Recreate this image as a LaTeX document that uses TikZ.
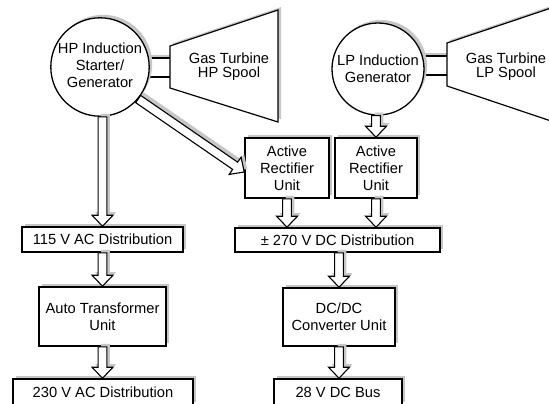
\documentclass[tikz,border=0pt]{standalone}
\usepackage{fontspec}
\setmainfont{Liberation Sans}
\usetikzlibrary{arrows.meta, shapes, shadows, calc, positioning}

\tikzset{
  unitbox/.style={draw, line width=1.6pt, fill=white, align=center, inner sep=0pt,
    drop shadow={shadow xshift=3pt, shadow yshift=3pt, fill=gray!45, opacity=1}},
  machine/.style={circle, draw, line width=1.3pt, fill=white, align=center, inner sep=0pt,
    drop shadow={shadow xshift=3pt, shadow yshift=3pt, fill=gray!45, opacity=1}},
  turbine/.style={draw, line width=1.2pt, fill=white,
    drop shadow={shadow xshift=3pt, shadow yshift=3pt, fill=gray!45, opacity=1}},
  % hollow block arrow: shaft half width 4.4, head half width 10.5, head length 11
  power/.style={draw, line width=1.1pt, fill=white, miter limit=20,
    preaction={fill=gray!45, draw=none, transform canvas={xshift=3pt, yshift=3pt}},
    to path={
      let \p1=(\tikztostart), \p2=(\tikztotarget),
          \n1={atan2(\y2-\y1,\x2-\x1)}, \n2={veclen(\x2-\x1,\y2-\y1)} in
      ([shift={(\p2)}, rotate=\n1]-\n2,4.4) -- ([shift={(\p2)}, rotate=\n1]-11,4.4)
      -- ([shift={(\p2)}, rotate=\n1]-11,10.5) -- (\p2)
      -- ([shift={(\p2)}, rotate=\n1]-11,-10.5) -- ([shift={(\p2)}, rotate=\n1]-11,-4.4)
      -- ([shift={(\p2)}, rotate=\n1]-\n2,-4.4) -- cycle}}
}

\begin{document}
\begin{tikzpicture}[x=1pt, y=-1pt, font=\fontsize{14.7}{17}\selectfont]

        \clip (0,0) rectangle (549,404);

        % Shafts between machines and turbines
        \draw[turbine] (140,58) rectangle (171,77); % HP shaft
        \draw[turbine] (418,56) rectangle (448,75); % LP shaft

        % Gas turbine spools
        \draw[turbine] (170,46) -- (278,10) -- (278,122) -- (170,88) -- cycle; % HP spool
        \node (hpspool) at (229,67) {\shortstack{Gas Turbine\\HP Spool}};
        \draw[turbine] (447,43) -- (560,5) -- (560,124) -- (447,86) -- cycle; % LP spool
        \node (lpspool) at (506,67) {\shortstack{Gas Turbine\\LP Spool}};

        % Induction machines
        \node[machine, minimum size=96pt] (hp) at (100,67)
          {\raisebox{-4pt}{\begin{tabular}{@{}c@{}}HP Induction\\Starter/\\Generator\end{tabular}}};
        \node[machine, minimum size=92pt] (lp) at (378,69) {LP Induction\\Generator};

        % Conversion units and buses
        \node[unitbox, minimum width=84pt, minimum height=60pt] (ar1) at (287,168) {Active\\Rectifier\\Unit};
        \node[unitbox, minimum width=82pt, minimum height=60pt] (ar2) at (376,168) {Active\\Rectifier\\Unit};
        \node[unitbox, minimum width=161pt, minimum height=25pt] (ac115) at (102.5,239.5) {115 V AC Distribution};
        \node[unitbox, minimum width=205pt, minimum height=24pt] (dc270) at (337.5,240) {± 270 V DC Distribution};
        \node[unitbox, minimum width=127pt, minimum height=59pt] (atu) at (102.5,316.5) {Auto Transformer\\Unit};
        \node[unitbox, minimum width=112pt, minimum height=58pt] (dcdc) at (339,317) {DC/DC\\Converter Unit};
        \node[unitbox, minimum width=180pt, minimum height=26pt] (ac230) at (103,392) {230 V AC Distribution};
        \node[unitbox, minimum width=128pt, minimum height=26pt] (dc28) at (338,392) {28 V DC Bus};

        % Power flow arrows
        \path[power] (ac115.north |- hp.south) to (ac115.north);
        \path[power] (hp.-40) to ([yshift=-4pt]ar1.west);
        \path[power] (ar2.north |- lp.south) to (ar2.north);
        \path[power] (ar1.south) to (ar1.south |- dc270.north);
        \path[power] (ar2.south) to (ar2.south |- dc270.north);
        \path[power] (dcdc.north |- dc270.south) to (dcdc.north);
        \path[power] (dcdc.south) to (dcdc.south |- dc28.north);
        \path[power] (ac115.south) to (ac115.south |- atu.north);
        \path[power] (atu.south) to (atu.south |- ac230.north);

\end{tikzpicture}
\end{document}
